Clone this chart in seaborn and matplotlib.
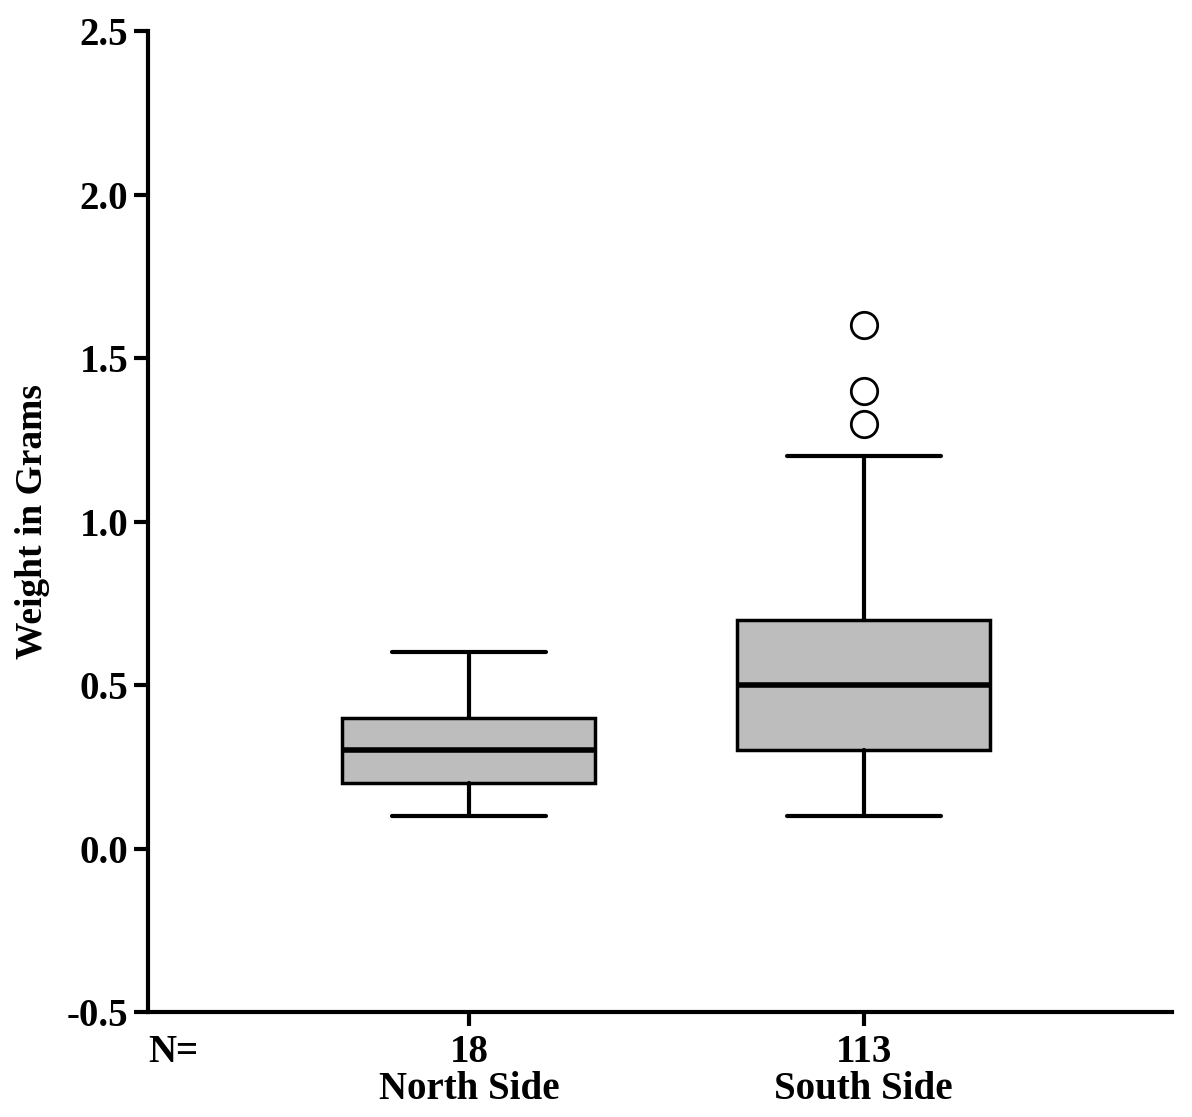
import seaborn as sns
import matplotlib.pyplot as plt

# summary values (grams)
groups = ["North Side", "South Side"]
counts = [18, 113]
whisker_low = [0.10, 0.10]
q1 = [0.20, 0.30]
medians = [0.30, 0.50]
q3 = [0.40, 0.70]
whisker_high = [0.60, 1.20]
outliers = [[], [1.30, 1.40, 1.60]]
yticks = [-0.5, 0.0, 0.5, 1.0, 1.5, 2.0, 2.5]


def boxplot():
    sns.set_theme(style="ticks")
    plt.rcParams["font.family"] = ["Liberation Serif", "DejaVu Serif"]
    plt.rcParams["font.weight"] = "bold"
    for k in ["text.color", "axes.labelcolor", "xtick.color", "ytick.color"]:
        plt.rcParams[k] = "black"

    fig, ax = plt.subplots(figsize=(11.92, 11.17), dpi=100)
    fig.subplots_adjust(left=0.124, right=0.983, top=0.972, bottom=0.094)

    stats = []
    for i, g in enumerate(groups):
        stats.append({"label": f"{counts[i]}\n{g}", "whislo": whisker_low[i], "q1": q1[i],
                      "med": medians[i], "q3": q3[i], "whishi": whisker_high[i],
                      "fliers": outliers[i]})

    ax.bxp(stats, positions=[1, 2], widths=0.64, capwidths=0.39, patch_artist=True,
           boxprops=dict(facecolor="#bdbdbd", edgecolor="black", linewidth=2.5),
           medianprops=dict(color="black", linewidth=4),
           whiskerprops=dict(color="black", linewidth=3),
           capprops=dict(color="black", linewidth=3),
           flierprops=dict(marker="o", markersize=19, markerfacecolor="white",
                           markeredgecolor="black", markeredgewidth=2))

    ax.set_xlim(0.187, 2.78)
    ax.set_ylim(-0.5, 2.5)
    ax.set_yticks(yticks)
    ax.set_yticklabels([f"{t:.1f}" for t in yticks])
    sns.despine(ax=ax)
    for sp in ["left", "bottom"]:
        ax.spines[sp].set_linewidth(3)
        ax.spines[sp].set_color("black")
    ax.tick_params(axis="both", width=3, length=10, color="black", labelsize=28, pad=4)
    ax.tick_params(axis="x", length=10, pad=6)
    for lab in ax.get_xticklabels() + ax.get_yticklabels():
        lab.set_fontweight("bold")
        lab.set_linespacing(1.0)
    ax.set_ylabel("Weight in Grams", fontsize=27, fontweight="bold", labelpad=12)
    ax.set_xlabel("")
    ax.text(0.0, -0.022, "N=", transform=ax.transAxes, ha="left", va="top",
            fontsize=28, fontweight="bold")
    ax.grid(False)

    plt.savefig("out.png", dpi=100, facecolor="white")


if __name__ == '__main__':
    boxplot()
